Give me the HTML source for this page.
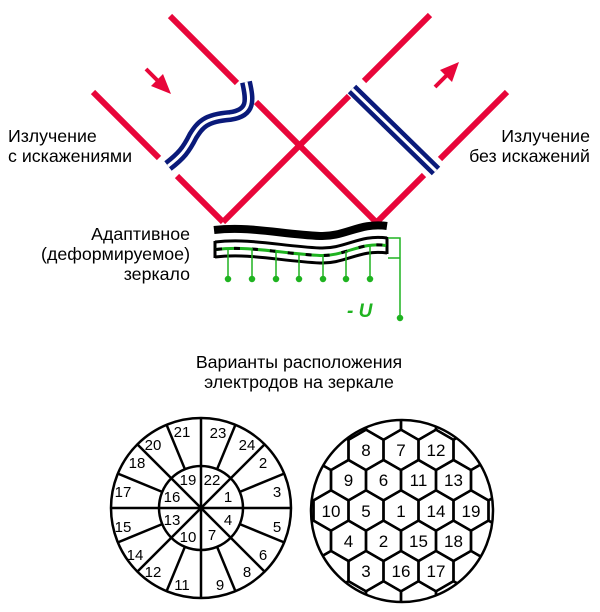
<!DOCTYPE html>
<html><head><meta charset="utf-8"><style>
html,body{margin:0;padding:0;background:#fff;}
svg{display:block;}
text{font-family:"Liberation Sans","DejaVu Sans",sans-serif;fill:#000;}
</style></head><body>
<svg width="600" height="612" viewBox="0 0 600 612" xmlns="http://www.w3.org/2000/svg">
<defs>
<clipPath id="cc"><circle cx="402" cy="511" r="91"/></clipPath>
<polygon id="hx" points="17.5,10.1 0,20.2 -17.5,10.1 -17.5,-10.1 0,-20.2 17.5,-10.1"/>
</defs>
<g stroke="#e8063a" stroke-width="6" fill="none">
<line x1="93" y1="92" x2="159" y2="158"/>
<line x1="177" y1="176" x2="223" y2="222"/>
<line x1="170" y1="16" x2="237" y2="83"/>
<line x1="256" y1="102" x2="377" y2="223"/>
<line x1="223" y1="222" x2="349" y2="96"/>
<line x1="364" y1="81" x2="430" y2="15"/>
<line x1="377" y1="222" x2="424" y2="175"/>
<line x1="440" y1="159" x2="507" y2="92"/>
</g>
<g fill="#e8063a" stroke="#e8063a">
<line x1="146" y1="69" x2="160" y2="83" stroke-width="4"/>
<polygon points="171,94 151,86 163,74" stroke="none"/>
<line x1="435" y1="87" x2="449" y2="73" stroke-width="4"/>
<polygon points="459,62 452,82 440,70" stroke="none"/>
</g>
<path d="M246 82 C250 100,252 113,230 116 C205 118,200 125,193 136 C186 150,181 156,168 166" stroke="#0a1a7a" stroke-width="12" fill="none"/>
<path d="M246 82 C250 100,252 113,230 116 C205 118,200 125,193 136 C186 150,181 156,168 166" stroke="#fff" stroke-width="3" fill="none"/>
<line x1="352" y1="89" x2="436" y2="171" stroke="#0a1a7a" stroke-width="12"/>
<line x1="352" y1="89" x2="436" y2="171" stroke="#fff" stroke-width="3"/>
<path d="M214 230 C250 226,280 234,320 236 C345 237,360 222,387 226" stroke="#000" stroke-width="8" fill="none"/>
<path d="M215 242 C250 238,280 246,320 248 C345 249,360 234,387 238" stroke="#000" stroke-width="3" fill="none"/>
<path d="M215 257 C250 253,280 261,320 263 C345 264,360 249,387 253" stroke="#000" stroke-width="3" fill="none"/>
<line x1="215" y1="241" x2="215" y2="258" stroke="#000" stroke-width="3"/>
<line x1="387" y1="237" x2="387" y2="254" stroke="#000" stroke-width="3"/>
<path d="M216 249.5 C250 245.5,280 253.5,320 255.5 C345 256.5,360 241.5,386 245.5" stroke="#1fb320" stroke-width="3" fill="none"/>
<path d="M216 249.5 C250 245.5,280 253.5,320 255.5 C345 256.5,360 241.5,386 245.5" stroke="#000" stroke-width="3" stroke-dasharray="6 12" fill="none"/>
<g stroke="#1fb320" stroke-width="1.5" fill="#1fb320">
<line x1="228" y1="249" x2="228" y2="279"/><circle cx="228" cy="279" r="2.5"/>
<line x1="252" y1="248" x2="252" y2="279"/><circle cx="252" cy="279" r="2.5"/>
<line x1="276" y1="250" x2="276" y2="279"/><circle cx="276" cy="279" r="2.5"/>
<line x1="299" y1="253" x2="299" y2="279"/><circle cx="299" cy="279" r="2.5"/>
<line x1="323" y1="255" x2="323" y2="279"/><circle cx="323" cy="279" r="2.5"/>
<line x1="346" y1="251" x2="346" y2="279"/><circle cx="346" cy="279" r="2.5"/>
<line x1="370" y1="245" x2="370" y2="279"/><circle cx="370" cy="279" r="2.5"/>
<polyline points="388,238 400,238 400,318" fill="none"/>
<line x1="388" y1="258" x2="400" y2="258"/>
<circle cx="400" cy="318" r="2.5"/>
</g>
<text x="347" y="317" font-size="19" font-weight="bold" font-style="italic" style="fill:#1fb320">- U</text>
<g font-size="17.8">
<text x="8" y="142">Излучение</text>
<text x="8" y="162">с искажениями</text>
<text x="590" y="142" text-anchor="end">Излучение</text>
<text x="590" y="162" text-anchor="end">без искажений</text>
<text x="190" y="240" text-anchor="end">Адаптивное</text>
<text x="190" y="260" text-anchor="end">(деформируемое)</text>
<text x="190" y="280" text-anchor="end">зеркало</text>
<text x="299" y="368" text-anchor="middle">Варианты расположения</text>
<text x="299" y="388" text-anchor="middle">электродов на зеркале</text>
</g>
<g stroke="#000" stroke-width="2.5" fill="none">
<circle cx="201" cy="508" r="90"/>
<circle cx="201" cy="508" r="42"/>
<line x1="111" y1="508" x2="291" y2="508"/>
<line x1="201" y1="418" x2="201" y2="598"/>
<line x1="137.4" y1="444.4" x2="264.6" y2="571.6"/>
<line x1="264.6" y1="444.4" x2="137.4" y2="571.6"/>
<line x1="239.8" y1="491.9" x2="284.1" y2="473.6"/>
<line x1="217.1" y1="469.2" x2="235.4" y2="424.9"/>
<line x1="184.9" y1="469.2" x2="166.6" y2="424.9"/>
<line x1="162.2" y1="491.9" x2="117.9" y2="473.6"/>
<line x1="162.2" y1="524.1" x2="117.9" y2="542.4"/>
<line x1="184.9" y1="546.8" x2="166.6" y2="591.1"/>
<line x1="217.1" y1="546.8" x2="235.4" y2="591.1"/>
<line x1="239.8" y1="524.1" x2="284.1" y2="542.4"/>
</g>
<g font-size="15" text-anchor="middle">
<text x="182" y="437">21</text><text x="218" y="438">23</text>
<text x="247" y="450">24</text><text x="263" y="468">2</text>
<text x="277" y="497">3</text><text x="277" y="532">5</text>
<text x="263" y="560">6</text><text x="247" y="577">8</text>
<text x="220" y="590">9</text><text x="182" y="590">11</text>
<text x="153" y="577">12</text><text x="135" y="560">14</text>
<text x="123" y="532">15</text><text x="123" y="497">17</text>
<text x="137" y="468">18</text><text x="153" y="450">20</text>
<text x="188" y="485">19</text><text x="212" y="485">22</text>
<text x="228" y="502">1</text><text x="228" y="525">4</text>
<text x="212" y="540">7</text><text x="188" y="542">10</text>
<text x="172" y="525">13</text><text x="172" y="502">16</text>
</g>
<g clip-path="url(#cc)" stroke="#000" stroke-width="2.5" fill="none">
<g transform="translate(0,419.6)"><use href="#hx" x="313.5"/><use href="#hx" x="348.5"/><use href="#hx" x="383.5"/><use href="#hx" x="418.5"/><use href="#hx" x="453.5"/><use href="#hx" x="488.5"/></g>
<g transform="translate(0,449.9)"><use href="#hx" x="296"/><use href="#hx" x="331"/><use href="#hx" x="366"/><use href="#hx" x="401"/><use href="#hx" x="436"/><use href="#hx" x="471"/><use href="#hx" x="506"/></g>
<g transform="translate(0,480.2)"><use href="#hx" x="313.5"/><use href="#hx" x="348.5"/><use href="#hx" x="383.5"/><use href="#hx" x="418.5"/><use href="#hx" x="453.5"/><use href="#hx" x="488.5"/></g>
<g transform="translate(0,510.5)"><use href="#hx" x="296"/><use href="#hx" x="331"/><use href="#hx" x="366"/><use href="#hx" x="401"/><use href="#hx" x="436"/><use href="#hx" x="471"/><use href="#hx" x="506"/></g>
<g transform="translate(0,540.8)"><use href="#hx" x="313.5"/><use href="#hx" x="348.5"/><use href="#hx" x="383.5"/><use href="#hx" x="418.5"/><use href="#hx" x="453.5"/><use href="#hx" x="488.5"/></g>
<g transform="translate(0,571.1)"><use href="#hx" x="296"/><use href="#hx" x="331"/><use href="#hx" x="366"/><use href="#hx" x="401"/><use href="#hx" x="436"/><use href="#hx" x="471"/><use href="#hx" x="506"/></g>
<g transform="translate(0,601.4)"><use href="#hx" x="313.5"/><use href="#hx" x="348.5"/><use href="#hx" x="383.5"/><use href="#hx" x="418.5"/><use href="#hx" x="453.5"/><use href="#hx" x="488.5"/></g>
</g>
<circle cx="402" cy="511" r="91" stroke="#000" stroke-width="2.5" fill="none"/>
<g font-size="17" text-anchor="middle">
<text x="366" y="456">8</text><text x="401" y="456">7</text><text x="436" y="456">12</text>
<text x="348.5" y="486">9</text><text x="383.5" y="486">6</text><text x="418.5" y="486">11</text><text x="453.5" y="486">13</text>
<text x="331" y="517">10</text><text x="366" y="517">5</text><text x="401" y="517">1</text><text x="436" y="517">14</text><text x="471" y="517">19</text>
<text x="348.5" y="547">4</text><text x="383.5" y="547">2</text><text x="418.5" y="547">15</text><text x="453.5" y="547">18</text>
<text x="366" y="577">3</text><text x="401" y="577">16</text><text x="436" y="577">17</text>
</g>
</svg>
</body></html>
